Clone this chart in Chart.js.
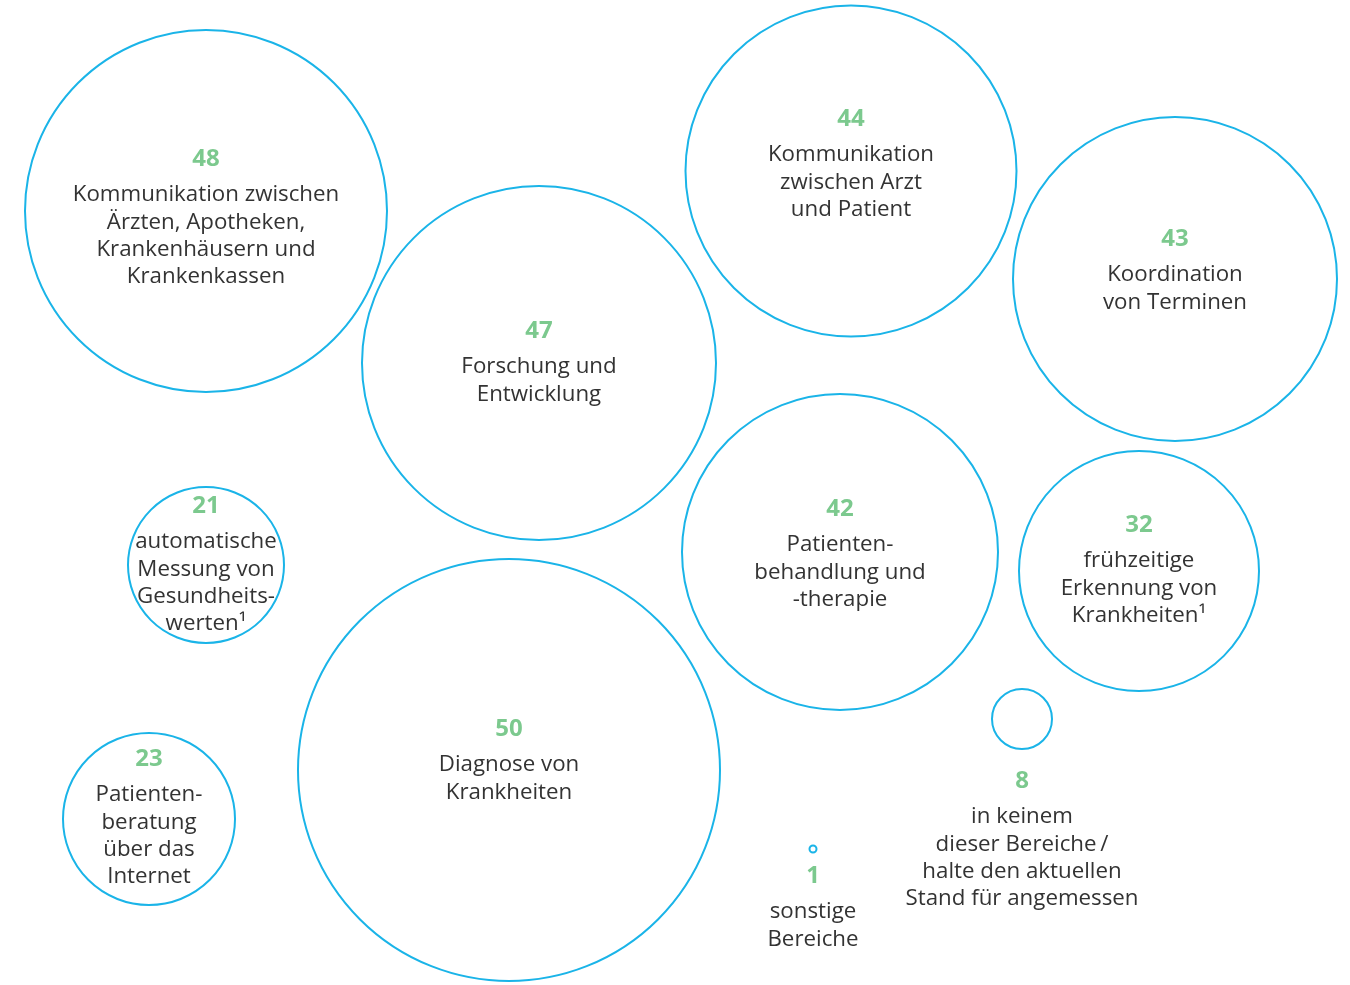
<!DOCTYPE html>
<html><head><meta charset="utf-8">
<script src="https://cdn.jsdelivr.net/npm/chart.js@4"></script>
<style>html,body{margin:0;padding:0;background:#fff}#wrap{width:1350px;height:985px}</style>
</head><body><div id="wrap"><canvas id="c" width="1350" height="985"></canvas></div>
<script>
const values = [48, 47, 44, 43, 42, 32, 21, 50, 23, 8, 1];
const labels = [
  ["Kommunikation zwischen","Ärzten, Apotheken,","Krankenhäusern und","Krankenkassen"],
  ["Forschung und","Entwicklung"],
  ["Kommunikation","zwischen Arzt","und Patient"],
  ["Koordination","von Terminen"],
  ["Patienten-","behandlung und","-therapie"],
  ["frühzeitige","Erkennung von","Krankheiten¹"],
  ["automatische","Messung von","Gesundheits-","werten¹"],
  ["Diagnose von","Krankheiten"],
  ["Patienten-","beratung","über das","Internet"],
  ["in keinem","dieser Bereiche\u2009/","halte den aktuellen","Stand für angemessen"],
  ["sonstige","Bereiche"]
];
// bubble layout (x, y in canvas units, radius)
const bubbleX = [206, 539, 851, 1175, 840, 1139, 206, 509, 149, 1022, 813];
const bubbleY = [211, 363, 171, 279, 552, 571, 565, 770, 819, 719, 849];
const bubbleR = [181, 177, 165.5, 162, 158, 120, 78, 211, 86, 30, 3.5];
const valueLabelY = [157, 329, 117, 237, 507, 523, 504, 727, 757, 779, 874];

const FONT = "'Open Sans', sans-serif";
const labelPlugin = {
  id: 'labels',
  afterDatasetsDraw(chart) {
    const ctx = chart.ctx;
    const meta = chart.getDatasetMeta(0);
    const ys = chart.scales.y;
    ctx.save();
    ctx.textAlign = 'center';
    ctx.textBaseline = 'middle';
    meta.data.forEach((el, i) => {
      const x = el.x;
      const vy = ys.getPixelForValue(valueLabelY[i]) + 2;
      ctx.fillStyle = '#7cc98e';
      ctx.font = "bold 24px " + FONT;
      ctx.fillText(String(values[i]), x, vy);
      ctx.fillStyle = '#333333';
      ctx.font = "22.3px " + FONT;
      labels[i].forEach((ln, j) => {
        ctx.fillText(ln, x, vy + 36 + j * 27.3);
      });
    });
    ctx.restore();
  }
};

new Chart(document.getElementById('c'), {
  type: 'bubble',
  data: {
    datasets: [{
      data: values.map((v, i) => ({x: bubbleX[i], y: bubbleY[i], r: bubbleR[i], v})),
      backgroundColor: 'rgba(255,255,255,0)',
      borderColor: '#1ab4e8',
      borderWidth: 2,
      hoverRadius: 0,
      clip: false
    }]
  },
  options: {
    responsive: false,
    animation: false,
    layout: {padding: 0, autoPadding: false},
    plugins: {legend: {display: false}, tooltip: {enabled: false}},
    scales: {
      x: {type: 'linear', min: 0, max: 1350, display: false},
      y: {type: 'linear', min: 0, max: 985, reverse: true, display: false}
    }
  },
  plugins: [labelPlugin]
});
</script>
</body></html>
